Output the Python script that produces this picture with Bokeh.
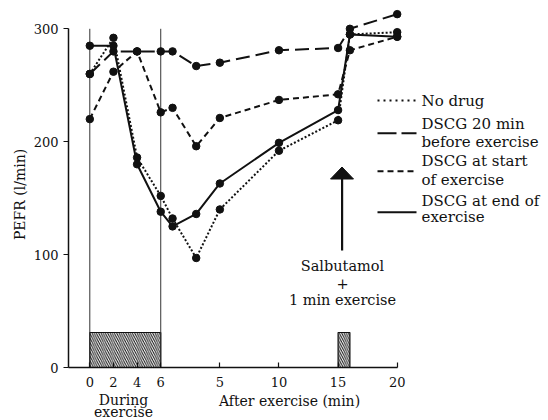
import math
from bokeh.plotting import figure
from bokeh.models import Range1d, FixedTicker, Label
from bokeh.embed import file_html
from bokeh.resources import INLINE

# ---- data -------------------------------------------------------------
during_min = [0, 2, 4, 6]
after_min = [1, 3, 5, 10, 15, 16, 20]
no_drug = [260, 292, 186, 152, 132, 97, 140, 192, 219, 295, 297]
dscg_20_before = [260, 280, 280, 280, 280, 267, 270, 281, 283, 300, 313]
dscg_start = [220, 262, 280, 226, 230, 196, 221, 237, 242, 281, 293]
dscg_end = [285, 285, 180, 138, 125, 136, 163, 199, 228, 295, 293]
exercise_periods = [(0, 6), (21, 22)]          # axis minutes (during 0-6, after 15-16)
exercise_bar_height = 31
y_ticks = [0, 100, 200, 300]
x_tick_labels = ["0", "2", "4", "6", "5", "10", "15", "20"]

# axis position: during minutes, then 6 + minutes after exercise
x_pos = during_min + [6 + m for m in after_min]
x_ticks = during_min + [6 + m for m in (5, 10, 15, 20)]

FONT = "DejaVu Serif"
INK = "#111111"

W, H = 548, 420
X0, X1 = -7.553, 38.797          # whole canvas is the plot frame
Y0, Y1 = -46.94, 325.07
Y_AXIS_AT = -1.80                # x position of the y axis line


def dx(px):
    return X0 + px / W * (X1 - X0)


def dy(py):
    return Y1 - py / H * (Y1 - Y0)


p = figure(width=W, height=H, output_backend="svg", toolbar_location=None,
           x_range=Range1d(X0, X1), y_range=Range1d(Y0, Y1),
           min_border_left=0, min_border_right=0, min_border_top=0,
           min_border_bottom=0)
p.outline_line_color = None
p.xgrid.visible = False
p.ygrid.visible = False
p.background_fill_color = "white"
p.border_fill_color = "white"

# axes (pinned inside the frame)
xa = p.xaxis[0]
xa.fixed_location = 0
xa.ticker = FixedTicker(ticks=x_ticks)
xa.major_label_overrides = {t: l for t, l in zip(x_ticks, x_tick_labels)}
xa.bounds = (Y_AXIS_AT, 26)
xa.major_tick_in = 5
xa.major_tick_out = 0
xa.minor_tick_line_color = None
xa.axis_line_width = 1.5
xa.major_tick_line_width = 1.2
xa.axis_line_color = INK
xa.major_tick_line_color = INK
xa.major_label_text_font = FONT
xa.major_label_text_font_size = "13px"
xa.major_label_text_color = INK
xa.major_label_standoff = 9

ya = p.yaxis[0]
ya.fixed_location = Y_AXIS_AT
ya.ticker = FixedTicker(ticks=y_ticks)
ya.bounds = (0, 300)
ya.major_tick_in = 0
ya.major_tick_out = 5
ya.minor_tick_line_color = None
ya.axis_line_width = 1.5
ya.major_tick_line_width = 1.2
ya.axis_line_color = INK
ya.major_tick_line_color = INK
ya.major_label_text_font = FONT
ya.major_label_text_font_size = "13px"
ya.major_label_text_color = INK
ya.major_label_standoff = 5

p.add_layout(Label(x=dx(19), y=dy(194), text="PEFR (l/min)", angle=math.pi / 2,
                   text_font=FONT, text_font_size="14px", text_color=INK,
                   text_align="center", text_baseline="middle"))

# hatched exercise bars
p.quad(left=[a for a, b in exercise_periods], right=[b for a, b in exercise_periods],
       bottom=0, top=exercise_bar_height, fill_color="white", line_color=INK,
       line_width=1.2, hatch_pattern="\\", hatch_scale=4.5, hatch_color=INK,
       hatch_weight=1)

# vertical exercise boundaries
p.segment(x0=[0, 6], y0=0, x1=[0, 6], y1=300, line_color="#333333", line_width=1)

series = [
    (no_drug, "2 2"),
    (dscg_20_before, "14 6"),
    (dscg_start, "6 4"),
    (dscg_end, "solid"),
]
for vals, dash in series:
    p.line(x_pos, vals, line_color=INK, line_width=2, line_dash=dash)
for vals, dash in series:
    p.scatter(x_pos, vals, size=7.5, fill_color=INK, line_color=INK)

# legend (drawn by hand)
legend_items = [
    ("2 4", 100, ["No drug"], [100]),
    ("19 5", 132.7, ["DSCG 20 min", "before exercise"], [123.3, 141]),
    ("6 4", 170.7, ["DSCG at start", "of exercise"], [160.7, 179]),
    ("solid", 211.7, ["DSCG at end of", "exercise"], [200, 216.7]),
]
for dash, ly, texts, tys in legend_items:
    p.line([dx(377), dx(416)], [dy(ly), dy(ly)], line_color=INK, line_width=2,
           line_dash=dash)
    for t, ty in zip(texts, tys):
        p.add_layout(Label(x=dx(421), y=dy(ty), text=t, text_font=FONT,
                           text_font_size="15px", text_color=INK,
                           text_align="left", text_baseline="middle"))

# salbutamol arrow
p.segment(x0=[dx(341.6)], y0=[dy(250)], x1=[dx(341.6)], y1=[dy(177)],
          line_color=INK, line_width=2.2)
p.patch([dx(341.5), dx(330), dx(353)], [dy(166.5), dy(178.5), dy(178.5)],
        fill_color=INK, line_color=INK)
for t, ty in [("Salbutamol", 265), ("+", 283), ("1 min exercise", 299)]:
    p.add_layout(Label(x=dx(342), y=dy(ty), text=t, text_font=FONT,
                       text_font_size="14.5px", text_color=INK,
                       text_align="center", text_baseline="middle"))

# section captions under the time axis
for t, tx, ty in [("During", 123, 399), ("exercise", 123, 411),
                  ("After exercise (min)", 289, 400)]:
    p.add_layout(Label(x=dx(tx), y=dy(ty), text=t, text_font=FONT,
                       text_font_size="14px", text_color=INK,
                       text_align="center", text_baseline="middle"))

open("out.html", "w").write(file_html(p, INLINE))
